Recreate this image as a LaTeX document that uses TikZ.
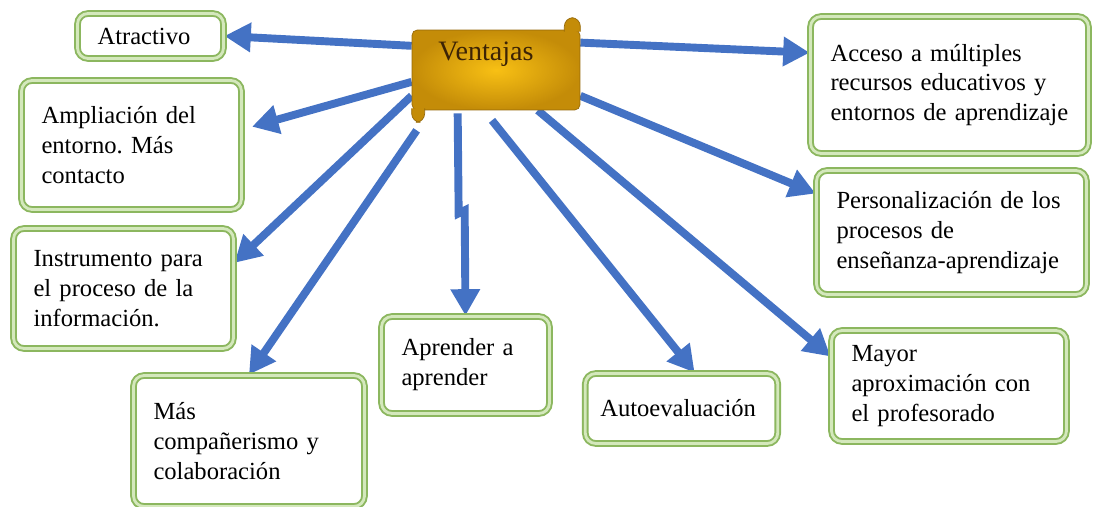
\documentclass[tikz,border=0pt]{standalone}
\usepackage{fontspec}
\setmainfont{Liberation Serif}
\usepackage{tikz}
\usetikzlibrary{
    shapes, arrows.meta, positioning, calc, backgrounds
}
\definecolor{colBlue}{RGB}{68, 114, 196}
\definecolor{colGreen}{RGB}{140, 183, 95}
\definecolor{colGreenLt}{RGB}{212, 232, 188}
\definecolor{colGold}{RGB}{196, 140, 8}
\definecolor{colGoldLt}{RGB}{248, 192, 20}
\definecolor{colGoldDk}{RGB}{150, 105, 10}
\definecolor{colBrown}{RGB}{60, 35, 5}

\tikzset{
    ventaja/.style={draw=colGreen, double=colGreenLt, double distance=1.6pt,
        line width=1.1pt, rounded corners=6pt, fill=white, align=left,
        inner xsep=0.4cm, font=\fontsize{14}{17}\selectfont\frenchspacing},
    pergamino/.style={shading=radial, inner color=colGoldLt, outer color=colGold,
        draw=colGoldDk, rounded corners=3pt, minimum width=3.36cm, inner xsep=0pt,
        inner ysep=0pt, text width=3.36cm, align=center, text height=0.6cm,
        text depth=1.0cm, text=colBrown, font=\fontsize{16}{19}\selectfont},
    rizo/.style={fill=colGold, draw=colGoldDk, rounded corners=5pt},
    flecha/.style={draw=colBlue, line width=4.5pt, -{Triangle[length=15pt, width=16pt]}}
}

\begin{document}
\begin{tikzpicture}[x=0.02cm, y=-0.02cm]
    \useasboundingbox (0, 0) rectangle (1093, 507);

    % --- Centro: pergamino ---
    \node[pergamino] (ventajas) at (496, 70) {Ventajas\hspace*{0.4cm}};
    \draw[rizo] ($(ventajas.north east)+(-16, 2)$) -- ++(0, -14) -- ++(16, 0) -- ++(0, 14);
    \draw[rizo] ($(ventajas.south west)+(0, -2)$) -- ++(0, 14) -- ++(13, 0) -- ++(0, -14);

    % --- Cajas de la izquierda ---
    \node[ventaja, text width=2.12cm, minimum height=0.9cm] (atractivo) at (150.5, 36) {Atractivo};
    \node[ventaja, text width=3.6cm, minimum height=2.58cm] (ampliacion) at (131.5, 145)
        {Ampliación del\\entorno. Más\\contacto};
    \node[ventaja, text width=3.6cm, minimum height=2.4cm] (instrumento) at (123.5, 288.5)
        {Instrumento para\\el proceso de la\\información.};
    \node[ventaja, text width=3.82cm, minimum height=2.62cm] (companerismo) at (249, 441)
        {Más\\compañerismo y\\colaboración};

    % --- Cajas de abajo ---
    \node[ventaja, text width=2.56cm, minimum height=1.94cm] (aprender) at (465.5, 365)
        {Aprender a\\aprender};
    \node[ventaja, text width=3.25cm, inner xsep=0.3cm, minimum height=1.4cm] (autoeval) at (681.5, 408.5)
        {Autoevaluación};

    % --- Cajas de la derecha ---
    \node[ventaja, text width=4.76cm, minimum height=2.74cm] (acceso) at (949.5, 85)
        {Acceso a múltiples\\recursos educativos y\\entornos de aprendizaje};
    \node[ventaja, text width=4.6cm, minimum height=2.48cm] (personal) at (951.5, 232.5)
        {Personalización de los\\procesos de\\enseñanza-aprendizaje};
    \node[ventaja, text width=3.9cm, minimum height=2.22cm] (mayor) at (949, 386)
        {Mayor\\aproximación con\\el profesorado};

    % --- Flechas (debajo del pergamino) ---
    \begin{scope}[on background layer]
        \draw[flecha] (ventajas.164) -- (atractivo.east);
        \draw[flecha, shorten >=0.2cm] (ventajas.188) -- (ampliacion.8);
        \draw[flecha] (ventajas.197) -- (instrumento.13);
        \draw[flecha] ($(ventajas.south west)+(5, 20)$) -- (companerismo.north);
        \draw[flecha] ($(ventajas.south west)+(46, 3)$) -- ++(1, 100) -- ++(6, -3) -- (aprender.north);
        \draw[flecha] ($(ventajas.south)+(-4, 10)$) -- (autoeval.70);
        \draw[flecha] (ventajas.-44) -- (mayor.166);
        \draw[flecha] (ventajas.-17) -- (personal.164);
        \draw[flecha] (ventajas.18) -- (acceso.167);
    \end{scope}
\end{tikzpicture}
\end{document}
